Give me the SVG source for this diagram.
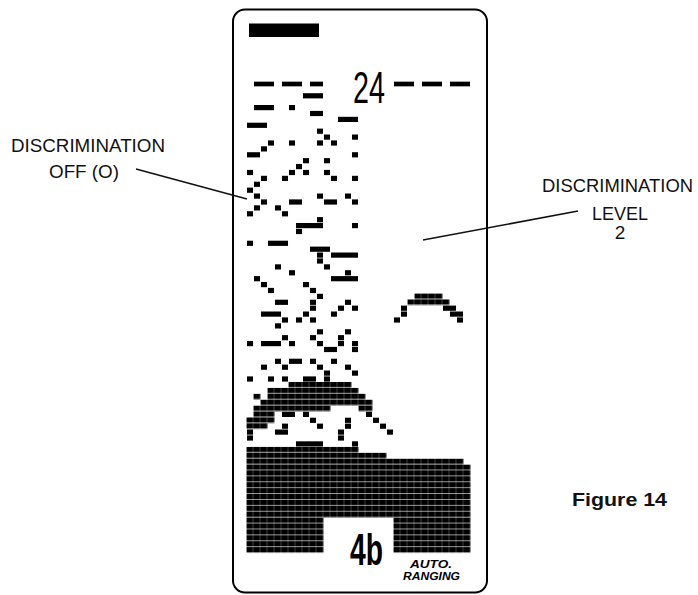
<svg xmlns="http://www.w3.org/2000/svg" width="698" height="595" viewBox="0 0 698 595">
<defs>
<pattern id="dense" patternUnits="userSpaceOnUse" x="0" y="0" width="1" height="1">
<rect x="0" y="0" width="0.965" height="0.9" fill="#000"/>
</pattern>
</defs>
<style>
.lbl{font-family:"Liberation Sans",Arial,sans-serif;font-size:19px;fill:#111}
.p{fill:#000}
.d{fill:url(#dense)}
.lead{stroke:#111;stroke-width:1.6;fill:none}
</style>
<rect width="698" height="595" fill="#fff"/>

<g id="screen">
<rect x="233" y="9.5" width="254" height="583" rx="12" ry="12" fill="none" stroke="#000" stroke-width="2"/>
<rect x="249" y="23.5" width="70" height="13.5" fill="#000"/>
<text x="369" y="103" font-family="Liberation Sans, Arial, sans-serif" font-size="44" text-anchor="middle" textLength="32" lengthAdjust="spacingAndGlyphs">24</text>
<text x="366.5" y="565" font-family="Liberation Sans, Arial, sans-serif" font-weight="bold" font-size="44" text-anchor="middle" textLength="33" lengthAdjust="spacingAndGlyphs">4b</text>
<text x="410" y="568" font-family="Liberation Sans, Arial, sans-serif" font-weight="bold" font-style="italic" font-size="10.5" textLength="42" lengthAdjust="spacingAndGlyphs">AUTO.</text>
<text x="403" y="580" font-family="Liberation Sans, Arial, sans-serif" font-weight="bold" font-style="italic" font-size="10.5" textLength="57" lengthAdjust="spacingAndGlyphs">RANGING</text>
</g>

<g id="lcd" transform="translate(246.5 81.05) scale(7 5.9)">
<g id="bottom">
<rect class="d" x="0" y="62" width="16" height="1"/>
<rect class="d" x="0" y="63" width="20" height="1"/>
<rect class="d" x="0" y="64" width="31" height="1"/>
<rect class="d" x="0" y="65" width="32" height="9"/>
<rect class="d" x="0" y="74" width="11" height="6"/>
<rect class="d" x="21" y="74" width="11" height="6"/>
</g>
<g id="blob">
<rect class="d" x="6" y="51" width="9" height="1"/>
<rect class="d" x="3" y="52" width="13" height="1"/>
<rect class="d" x="1" y="53" width="1" height="1"/>
<rect class="d" x="3" y="53" width="14" height="1"/>
<rect class="d" x="2" y="54" width="16" height="1"/>
<rect class="d" x="1" y="55" width="11" height="1"/>
<rect class="d" x="16" y="55" width="2" height="1"/>
<rect class="d" x="1" y="56" width="3" height="1"/>
<rect class="d" x="0" y="57" width="4" height="1"/>
<rect class="d" x="0" y="58" width="3" height="1"/>
</g>
<g id="arch">
<rect class="d" x="24" y="36" width="4" height="1"/>
<rect class="d" x="23" y="37" width="6" height="1"/>
<rect class="p" x="22.07" y="38.06" width="0.86" height="0.88"/>
<rect class="p" x="28.07" y="38.06" width="1.86" height="0.88"/>
<rect class="p" x="22.07" y="39.06" width="0.86" height="0.88"/>
<rect class="p" x="29.07" y="39.06" width="1.86" height="0.88"/>
<rect class="p" x="21.07" y="40.06" width="0.86" height="0.88"/>
<rect class="p" x="30.07" y="40.06" width="0.86" height="0.88"/>
</g>
<g id="dots">
<rect class="p" x="1.07" y="0.1" width="2.86" height="0.8"/>
<rect class="p" x="5.07" y="0.1" width="2.86" height="0.8"/>
<rect class="p" x="9.07" y="0.1" width="1.86" height="0.8"/>
<rect class="p" x="21.07" y="0.1" width="2.86" height="0.8"/>
<rect class="p" x="25.07" y="0.1" width="2.86" height="0.8"/>
<rect class="p" x="29.07" y="0.1" width="2.86" height="0.8"/>
<rect class="p" x="8.07" y="2.06" width="2.86" height="0.88"/>
<rect class="p" x="1.07" y="4.06" width="2.86" height="0.88"/>
<rect class="p" x="6.07" y="4.06" width="0.86" height="0.88"/>
<rect class="p" x="9.07" y="5.06" width="1.86" height="0.88"/>
<rect class="p" x="13.07" y="6.06" width="2.86" height="0.88"/>
<rect class="p" x="0.07" y="7.06" width="2.86" height="0.88"/>
<rect class="p" x="10.07" y="8.06" width="0.86" height="0.88"/>
<rect class="p" x="11.07" y="9.06" width="0.86" height="0.88"/>
<rect class="p" x="15.07" y="9.06" width="0.86" height="0.88"/>
<rect class="p" x="3.07" y="10.06" width="0.86" height="0.88"/>
<rect class="p" x="6.07" y="10.06" width="0.86" height="0.88"/>
<rect class="p" x="10.07" y="10.06" width="0.86" height="0.88"/>
<rect class="p" x="12.07" y="10.06" width="0.86" height="0.88"/>
<rect class="p" x="2.07" y="11.06" width="0.86" height="0.88"/>
<rect class="p" x="0.07" y="12.06" width="1.86" height="0.88"/>
<rect class="p" x="15.07" y="12.06" width="0.86" height="0.88"/>
<rect class="p" x="8.07" y="13.06" width="0.86" height="0.88"/>
<rect class="p" x="11.07" y="13.06" width="0.86" height="0.88"/>
<rect class="p" x="7.07" y="14.06" width="0.86" height="0.88"/>
<rect class="p" x="0.07" y="15.06" width="0.86" height="0.88"/>
<rect class="p" x="6.07" y="15.06" width="0.86" height="0.88"/>
<rect class="p" x="8.07" y="15.06" width="0.86" height="0.88"/>
<rect class="p" x="11.07" y="15.06" width="0.86" height="0.88"/>
<rect class="p" x="2.07" y="16.06" width="0.86" height="0.88"/>
<rect class="p" x="5.07" y="16.06" width="0.86" height="0.88"/>
<rect class="p" x="12.07" y="16.06" width="0.86" height="0.88"/>
<rect class="p" x="15.07" y="16.06" width="0.86" height="0.88"/>
<rect class="p" x="1.07" y="17.06" width="0.86" height="0.88"/>
<rect class="p" x="0.07" y="18.06" width="0.86" height="0.88"/>
<rect class="p" x="1.07" y="19.06" width="0.86" height="0.88"/>
<rect class="p" x="10.07" y="19.06" width="0.86" height="0.88"/>
<rect class="p" x="14.07" y="19.06" width="0.86" height="0.88"/>
<rect class="p" x="2.07" y="20.06" width="0.86" height="0.88"/>
<rect class="p" x="6.07" y="20.06" width="1.86" height="0.88"/>
<rect class="p" x="11.07" y="20.06" width="1.86" height="0.88"/>
<rect class="p" x="15.07" y="20.06" width="0.86" height="0.88"/>
<rect class="p" x="1.07" y="21.06" width="0.86" height="0.88"/>
<rect class="p" x="4.07" y="21.06" width="0.86" height="0.88"/>
<rect class="p" x="0.07" y="22.06" width="0.86" height="0.88"/>
<rect class="p" x="5.07" y="22.06" width="0.86" height="0.88"/>
<rect class="p" x="10.07" y="23.06" width="0.86" height="0.88"/>
<rect class="p" x="7.07" y="24.06" width="3.86" height="0.88"/>
<rect class="p" x="15.07" y="24.06" width="0.86" height="0.88"/>
<rect class="p" x="7.07" y="25.06" width="0.86" height="0.88"/>
<rect class="p" x="0.07" y="27.06" width="0.86" height="0.88"/>
<rect class="p" x="3.07" y="27.06" width="2.86" height="0.88"/>
<rect class="p" x="9.07" y="28.06" width="2.86" height="0.88"/>
<rect class="p" x="10.07" y="29.06" width="0.86" height="0.88"/>
<rect class="p" x="12.07" y="29.06" width="3.86" height="0.88"/>
<rect class="p" x="10.07" y="30.06" width="0.86" height="0.88"/>
<rect class="p" x="4.07" y="31.06" width="0.86" height="0.88"/>
<rect class="p" x="11.07" y="31.06" width="0.86" height="0.88"/>
<rect class="p" x="6.07" y="32.06" width="0.86" height="0.88"/>
<rect class="p" x="14.07" y="32.06" width="0.86" height="0.88"/>
<rect class="p" x="1.07" y="33.06" width="0.86" height="0.88"/>
<rect class="p" x="12.07" y="33.06" width="3.86" height="0.88"/>
<rect class="p" x="2.07" y="34.06" width="0.86" height="0.88"/>
<rect class="p" x="8.07" y="34.06" width="0.86" height="0.88"/>
<rect class="p" x="3.07" y="35.06" width="0.86" height="0.88"/>
<rect class="p" x="9.07" y="35.06" width="0.86" height="0.88"/>
<rect class="p" x="10.07" y="36.06" width="0.86" height="0.88"/>
<rect class="p" x="4.07" y="37.06" width="1.86" height="0.88"/>
<rect class="p" x="9.07" y="37.06" width="0.86" height="0.88"/>
<rect class="p" x="14.07" y="37.06" width="0.86" height="0.88"/>
<rect class="p" x="9.07" y="38.06" width="0.86" height="0.88"/>
<rect class="p" x="13.07" y="38.06" width="0.86" height="0.88"/>
<rect class="p" x="15.07" y="38.06" width="0.86" height="0.88"/>
<rect class="p" x="2.07" y="39.06" width="2.86" height="0.88"/>
<rect class="p" x="8.07" y="39.06" width="0.86" height="0.88"/>
<rect class="p" x="12.07" y="39.06" width="0.86" height="0.88"/>
<rect class="p" x="5.07" y="40.06" width="0.86" height="0.88"/>
<rect class="p" x="7.07" y="40.06" width="0.86" height="0.88"/>
<rect class="p" x="9.07" y="40.06" width="0.86" height="0.88"/>
<rect class="p" x="4.07" y="41.06" width="0.86" height="0.88"/>
<rect class="p" x="10.07" y="42.06" width="0.86" height="0.88"/>
<rect class="p" x="14.07" y="42.06" width="0.86" height="0.88"/>
<rect class="p" x="5.07" y="43.06" width="0.86" height="0.88"/>
<rect class="p" x="9.07" y="43.06" width="0.86" height="0.88"/>
<rect class="p" x="13.07" y="43.06" width="0.86" height="0.88"/>
<rect class="p" x="0.07" y="44.06" width="0.86" height="0.88"/>
<rect class="p" x="2.07" y="44.06" width="2.86" height="0.88"/>
<rect class="p" x="6.07" y="44.06" width="0.86" height="0.88"/>
<rect class="p" x="10.07" y="44.06" width="0.86" height="0.88"/>
<rect class="p" x="13.07" y="44.06" width="0.86" height="0.88"/>
<rect class="p" x="15.07" y="44.06" width="0.86" height="0.88"/>
<rect class="p" x="11.07" y="45.06" width="1.86" height="0.88"/>
<rect class="p" x="15.07" y="45.06" width="0.86" height="0.88"/>
<rect class="p" x="4.07" y="47.06" width="0.86" height="0.88"/>
<rect class="p" x="6.07" y="47.06" width="1.86" height="0.88"/>
<rect class="p" x="9.07" y="47.06" width="0.86" height="0.88"/>
<rect class="p" x="12.07" y="47.06" width="0.86" height="0.88"/>
<rect class="p" x="2.07" y="48.06" width="0.86" height="0.88"/>
<rect class="p" x="5.07" y="48.06" width="0.86" height="0.88"/>
<rect class="p" x="10.07" y="48.06" width="0.86" height="0.88"/>
<rect class="p" x="14.07" y="48.06" width="0.86" height="0.88"/>
<rect class="p" x="11.07" y="49.06" width="0.86" height="0.88"/>
<rect class="p" x="15.07" y="49.06" width="0.86" height="0.88"/>
<rect class="p" x="0.07" y="50.06" width="0.86" height="0.88"/>
<rect class="p" x="3.07" y="50.06" width="0.86" height="0.88"/>
<rect class="p" x="5.07" y="50.06" width="0.86" height="0.88"/>
<rect class="p" x="8.07" y="50.06" width="1.86" height="0.88"/>
<rect class="p" x="11.07" y="50.06" width="0.86" height="0.88"/>
<rect class="p" x="5.07" y="56.06" width="1.86" height="0.88"/>
<rect class="p" x="8.07" y="56.06" width="0.86" height="0.88"/>
<rect class="p" x="17.07" y="56.06" width="0.86" height="0.88"/>
<rect class="p" x="9.07" y="57.06" width="0.86" height="0.88"/>
<rect class="p" x="14.07" y="57.06" width="0.86" height="0.88"/>
<rect class="p" x="18.07" y="57.06" width="0.86" height="0.88"/>
<rect class="p" x="5.07" y="58.06" width="0.86" height="0.88"/>
<rect class="p" x="10.07" y="58.06" width="0.86" height="0.88"/>
<rect class="p" x="14.07" y="58.06" width="0.86" height="0.88"/>
<rect class="p" x="19.07" y="58.06" width="0.86" height="0.88"/>
<rect class="p" x="0.07" y="59.06" width="0.86" height="0.88"/>
<rect class="p" x="4.07" y="59.06" width="1.86" height="0.88"/>
<rect class="p" x="13.07" y="59.06" width="0.86" height="0.88"/>
<rect class="p" x="20.07" y="59.06" width="0.86" height="0.88"/>
<rect class="p" x="0.07" y="60.06" width="0.86" height="0.88"/>
<rect class="p" x="13.07" y="60.06" width="0.86" height="0.88"/>
<rect class="p" x="7.07" y="61.06" width="3.86" height="0.88"/>
<rect class="p" x="15.07" y="61.06" width="0.86" height="0.88"/>
</g>
</g>

<g id="label-off">
<text class="lbl" x="88" y="152" text-anchor="middle" textLength="154" lengthAdjust="spacingAndGlyphs">DISCRIMINATION</text>
<text class="lbl" x="84" y="178" text-anchor="middle" textLength="70" lengthAdjust="spacingAndGlyphs">OFF (O)</text>
</g>
<g id="label-level">
<text class="lbl" x="617.5" y="192" text-anchor="middle" textLength="151" lengthAdjust="spacingAndGlyphs">DISCRIMINATION</text>
<text class="lbl" x="620" y="220" text-anchor="middle" textLength="56" lengthAdjust="spacingAndGlyphs">LEVEL</text>
<text class="lbl" x="620" y="239" text-anchor="middle">2</text>
</g>
<g id="caption">
<text x="572" y="506" font-family="Liberation Sans, Arial, sans-serif" font-weight="bold" font-size="18.5" fill="#111" textLength="95" lengthAdjust="spacingAndGlyphs">Figure 14</text>
</g>

<g id="connectors">
<line class="lead" x1="136" y1="169" x2="247" y2="199"/>
<line class="lead" x1="423" y1="240" x2="578" y2="211"/>
</g>
</svg>
